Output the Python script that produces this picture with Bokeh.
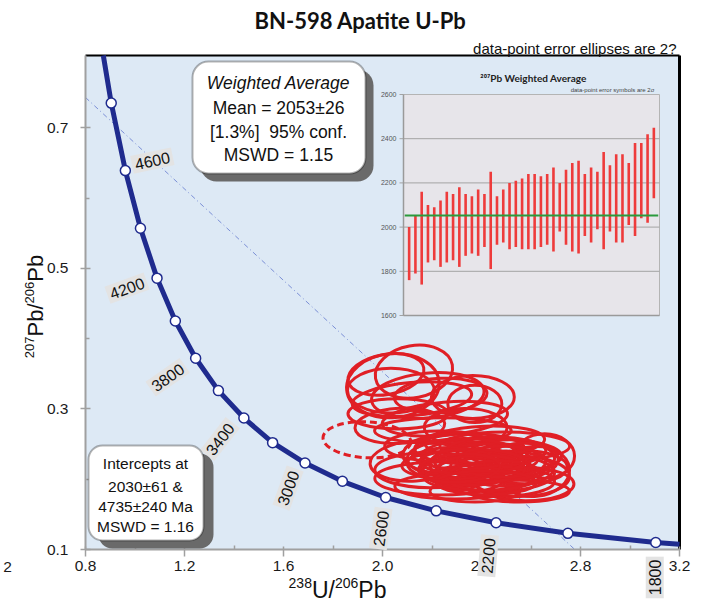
import math
from bokeh.plotting import figure
from bokeh.models import (Range1d, FixedTicker, PrintfTickFormatter, Label,
                          BoxAnnotation, ColumnDataSource)
from bokeh.core.properties import value
from bokeh.embed import file_html
from bokeh.resources import INLINE

# ---------------- data ----------------
title_text = "BN-598 Apatite U-Pb"
note_text = "data-point error ellipses are 2?"
x_label_parts = [("238", True), ("U/", False), ("206", True), ("Pb", False)]
y_label_parts = [("207", True), ("Pb/", False), ("206", True), ("Pb", False)]
stray_label = "2"

x_ticks = [0.8, 1.2, 1.6, 2.0, 2.4, 2.8, 3.2]
x_minor = [1.0, 1.4, 1.8, 2.2, 2.6, 3.0]
y_ticks = [0.1, 0.3, 0.5, 0.7]
y_minor = [0.2, 0.4, 0.6]

# concordia age markers (Ma) and their positions
conc_age = [4800, 4600, 4400, 4200, 4000, 3800, 3600, 3400, 3200,
            3000, 2800, 2600, 2400, 2200, 2000, 1800]
conc_x = [0.904, 0.961, 1.022, 1.089, 1.163, 1.245, 1.337, 1.440, 1.556,
          1.687, 1.838, 2.013, 2.217, 2.459, 2.749, 3.104]
conc_y = [0.735, 0.639, 0.557, 0.486, 0.425, 0.372, 0.326, 0.287, 0.252,
          0.223, 0.197, 0.174, 0.155, 0.138, 0.123, 0.110]
# where the curve enters (top) and leaves (right) the plot area
conc_in = (0.872, 0.8027)
conc_out = (3.200, 0.1076)
conc_label_age = [4600, 4200, 3800, 3400, 3000, 2600, 2200, 1800]

# discordia (regression line) end points
discordia_x = [0.800, 2.777]
discordia_y = [0.743, 0.100]

# error ellipses (accepted)
ell_x = [2.127, 2.042, 2.034, 2.183, 2.365, 2.119, 2.252, 2.062, 2.336, 2.244,
         2.014, 2.235, 2.373, 2.231, 2.578, 2.655, 2.332, 2.441, 2.296, 2.453,
         2.574, 2.352, 2.393, 2.473, 2.292, 2.514, 2.413, 2.191, 2.554, 2.373,
         2.264, 2.494, 2.615, 2.324, 2.437, 2.131, 2.231, 2.554, 2.070,
         2.350, 2.420, 2.500, 2.280, 2.460, 2.390, 2.560, 2.330,
         2.400, 2.450, 2.360, 2.480, 2.420, 2.310]
ell_y = [0.353, 0.333, 0.326, 0.319, 0.317, 0.314, 0.286, 0.293, 0.274, 0.269,
         0.349, 0.319, 0.307, 0.201, 0.193, 0.233, 0.219, 0.233, 0.229, 0.209,
         0.217, 0.243, 0.223, 0.197, 0.190, 0.229, 0.254, 0.213, 0.204, 0.183,
         0.237, 0.247, 0.211, 0.211, 0.219, 0.226, 0.247, 0.183, 0.276,
         0.212, 0.228, 0.215, 0.222, 0.240, 0.202, 0.226, 0.236,
         0.215, 0.205, 0.225, 0.225, 0.195, 0.216]
ell_w = [0.315, 0.375, 0.351, 0.456, 0.335, 0.484, 0.508, 0.403, 0.335, 0.552,
         0.310, 0.375, 0.218, 0.524, 0.391, 0.242, 0.508, 0.565, 0.391, 0.484,
         0.347, 0.444, 0.403, 0.444, 0.484, 0.363, 0.484, 0.444, 0.403, 0.363,
         0.363, 0.524, 0.282, 0.323, 0.323, 0.363, 0.444, 0.403, 0.363,
         0.400, 0.420, 0.380, 0.360, 0.400, 0.440, 0.300, 0.420,
         0.350, 0.380, 0.420, 0.360, 0.400, 0.330]
ell_h = [0.074, 0.091, 0.064, 0.064, 0.061, 0.047, 0.047, 0.043, 0.053, 0.037,
         0.057, 0.049, 0.053, 0.047, 0.047, 0.063, 0.043, 0.051, 0.053, 0.053,
         0.047, 0.043, 0.057, 0.043, 0.036, 0.054, 0.043, 0.050, 0.057, 0.031,
         0.057, 0.040, 0.071, 0.043, 0.043, 0.057, 0.043, 0.031, 0.050,
         0.040, 0.045, 0.050, 0.046, 0.040, 0.036, 0.050, 0.044,
         0.038, 0.042, 0.036, 0.044, 0.034, 0.040]
ell_angle = [10, 5, 0, 5, 0, 5, 5, 0, 0, 0,
             10, 3, 0, 0, 0, 0, 0, 0, 0, 0,
             0, 0, 3, 0, 0, 0, 2, 0, 0, 0,
             3, 0, 5, 0, 0, 4, 0, 0, 3,
             0, 2, 0, 0, 0, 0, 3, 0,
             0, 2, 0, 0, 0, 3]

# rejected ellipse (dashed)
rej_x = [1.937]
rej_y = [0.256]
rej_w = [0.355]
rej_h = [0.051]
rej_angle = [-3]

# inset: 207Pb weighted average (Ma), 2-sigma bars
wa_low = [1760, 1790, 1740, 1840, 1850, 1820, 1840, 1850, 1820, 1870,
          1880, 1870, 1910, 1810, 1920, 1930, 1900, 1910, 1900, 1900,
          1900, 1910, 1920, 1890, 1980, 1920, 1890, 1880, 1960, 1930,
          1990, 1900, 1980, 1930, 1930, 2010, 1960, 2040, 2020, 2130]
wa_high = [2000, 2050, 2160, 2100, 2090, 2120, 2160, 2150, 2180, 2150,
           2140, 2170, 2150, 2250, 2140, 2170, 2200, 2210, 2220, 2240,
           2240, 2230, 2240, 2270, 2200, 2260, 2290, 2300, 2240, 2270,
           2250, 2340, 2280, 2330, 2330, 2290, 2380, 2380, 2420, 2450]
wa_mean = 2053
wa_ticks = [1600, 1800, 2000, 2200, 2400, 2600]
wa_grid = [1800, 2000, 2200, 2400]
wa_title = "²⁰⁷Pb Weighted Average"
wa_note = "data-point error symbols are 2σ"

wa_box_lines = ["Weighted Average", "Mean = 2053±26", "[1.3%]\u00a0 95% conf.", "MSWD = 1.15"]
int_box_lines = ["Intercepts at", "2030±61 &", "4735±240 Ma", "MSWD = 1.16"]

# ---------------- layout (pixels) ----------------
W, H = 703, 602
FL, FR, FT, FB = 85, 679, 55, 549          # plot-area edges on the page
X0, X1 = 0.8, 3.2
Y0 = 0.1
SXU = (FR - FL) / (X1 - X0)
SYU = 703.0
Y1 = Y0 + (FB - FT) / SYU


def dx(px):
    return X0 + (px - FL) / SXU


def dy(py):
    return Y0 + (FB - py) / SYU


FONT = "Liberation Sans"
NAVY = "#1f2b8e"
RED = "#e01f25"
ADV = {"0": .556, "1": .556, "2": .556, "3": .556, "4": .556, "5": .556, "6": .556,
       "7": .556, "8": .556, "9": .556, "U": .722, "/": .278, "P": .667, "b": .556}


def tw(s, size):
    return sum(ADV.get(c, .556) for c in s) * size


p = figure(width=W, height=H,
           x_range=Range1d(dx(0), dx(W)), y_range=Range1d(dy(H), dy(0)),
           output_backend="svg", toolbar_location=None,
           min_border_left=0, min_border_right=0, min_border_top=0, min_border_bottom=0)
p.title.visible = False
p.background_fill_color = "white"
p.border_fill_color = "white"
p.outline_line_color = None
p.grid.visible = False

# plot area background
p.add_layout(BoxAnnotation(left=X0, right=X1, bottom=Y0, top=Y1, fill_color="#dde9f5",
                           fill_alpha=1, line_color=None, level="underlay"))

xa = p.xaxis[0]
ya = p.yaxis[0]
xa.fixed_location = Y0
xa.bounds = (X0, X1)
ya.fixed_location = X0
ya.bounds = (Y0, Y1)
for ax, ticks, minor in ((xa, x_ticks, x_minor), (ya, y_ticks, y_minor)):
    ax.ticker = FixedTicker(ticks=ticks, minor_ticks=minor)
    ax.formatter = PrintfTickFormatter(format="%.1f")
    ax.axis_line_color = "#a0a0a0"
    ax.axis_line_width = 2
    ax.major_tick_line_color = "#a0a0a0"
    ax.minor_tick_line_color = "#a0a0a0"
    ax.major_tick_line_width = 1.5
    ax.minor_tick_line_width = 1.5
    ax.major_label_text_font = FONT
    ax.major_label_text_font_size = "15.5px"
    ax.major_label_text_color = "#1a1a1a"
xa.major_tick_in = 3
xa.major_tick_out = 7
xa.minor_tick_in = 4
xa.minor_tick_out = 0
xa.major_label_standoff = 4
ya.major_tick_in = 5
ya.major_tick_out = 5
ya.minor_tick_in = 4
ya.minor_tick_out = 0
ya.major_label_standoff = 12

# frame top / right borders
p.segment(x0=[X0, X1], y0=[Y1, Y0], x1=[X1, X1], y1=[Y1, Y1],
          line_color="black", line_width=[2, 3])

# ---------------- inset (extra ranges) ----------------
IPL, IPR, IPT, IPB = 403, 659, 94, 315
IX0, IX1 = 0.1, 40.9
IY0, IY1 = 1600, 2600
ixs = (IPR - IPL) / (IX1 - IX0)
iys = (IPB - IPT) / (IY1 - IY0)
p.extra_x_ranges = {"ix": Range1d(IX0 - IPL / ixs, IX1 + (W - IPR) / ixs)}
p.extra_y_ranges = {"iy": Range1d(IY0 - (H - IPB) / iys, IY1 + IPT / iys)}
IR = dict(x_range_name="ix", y_range_name="iy")

p.quad(left=[IX0], right=[IX1], bottom=[IY0], top=[IY1], fill_color="#e7e5ea",
       line_color="#b4b4b4", line_width=1, **IR)
p.segment(x0=[IX0] * len(wa_grid), x1=[IX1] * len(wa_grid), y0=wa_grid, y1=wa_grid,
          line_color="#a3a3a3", line_width=1, **IR)
p.segment(x0=[IX0] * len(wa_ticks), x1=[IX0 - 4 / ixs] * len(wa_ticks), y0=wa_ticks, y1=wa_ticks,
          line_color="#a3a3a3", line_width=1, **IR)
p.segment(x0=[IX0, IX0], x1=[IX0, IX1], y0=[IY0, IY0], y1=[IY1, IY0],
          line_color="#9a9a9a", line_width=1.5, **IR)
p.text(x=[IX0] * len(wa_ticks), y=wa_ticks, text=[str(t) for t in wa_ticks],
       x_offset=-7, text_align="right", text_baseline="middle",
       text_font=value(FONT), text_font_size="7px", text_color="#555555", **IR)
idx = list(range(1, len(wa_low) + 1))
p.segment(x0=idx, x1=idx, y0=wa_low, y1=wa_high, line_color="#ee3b3b",
          line_width=2.6, line_cap="butt", **IR)
p.segment(x0=[IX0 + 0.2], x1=[IX1 - 0.2], y0=[wa_mean], y1=[wa_mean],
          line_color="#2b9a3c", line_width=2, **IR)
p.add_layout(Label(x=dx(533), y=dy(77), text=wa_title, text_align="center",
                   text_baseline="middle", text_font="Lato", text_font_style="bold",
                   text_font_size="10px", text_color="#222222"))
p.add_layout(Label(x=dx(612), y=dy(89), text=wa_note, text_align="center",
                   text_baseline="middle", text_font=FONT, text_font_size="6px",
                   text_color="#444444"))

# ---------------- main glyphs ----------------
p.line(discordia_x, discordia_y, line_color="#7b8fd6", line_width=1, line_dash="5 3 1 3")
p.line([conc_in[0]] + conc_x + [conc_out[0]], [conc_in[1]] + conc_y + [conc_out[1]],
       line_color=NAVY, line_width=5, line_join="round")

esrc = ColumnDataSource(dict(x=ell_x, y=ell_y, w=ell_w, h=ell_h, a=ell_angle))
p.ellipse(x="x", y="y", width="w", height="h", angle="a", angle_units="deg",
          source=esrc, fill_alpha=0, line_color=RED, line_width=3)
rsrc = ColumnDataSource(dict(x=rej_x, y=rej_y, w=rej_w, h=rej_h, a=rej_angle))
p.ellipse(x="x", y="y", width="w", height="h", angle="a", angle_units="deg",
          source=rsrc, fill_alpha=0, line_color=RED, line_width=3, line_dash="7 4")

p.scatter(conc_x, conc_y, size=10, marker="circle", fill_color="white",
          line_color=NAVY, line_width=1.5)

# concordia age labels (offset px from marker, angle deg)
lab_off = {4600: (27, -10, 12), 4200: (-30, 10, 20), 3800: (-28, 19, 35),
           3400: (-24, 21, 52), 3000: (-17, 25, 70), 2600: (-5, 31, 82),
           2200: (-8, 33, 85), 1800: (-1, 35, 90)}
for age in conc_label_age:
    i = conc_age.index(age)
    ox, oy, ang = lab_off[age]
    p.add_layout(Label(x=conc_x[i] + ox / SXU, y=conc_y[i] - oy / SYU, text=str(age),
                       angle=ang, angle_units="deg", text_align="center",
                       text_baseline="middle", text_font=FONT, text_font_size="16px",
                       text_color="#111111", background_fill_color="#e3e3e3",
                       background_fill_alpha=1, padding=3))

# ---------------- boxes ----------------
def rbox(l, t, r, b, sdx, sdy, rad):
    p.add_layout(BoxAnnotation(left=dx(l + sdx), right=dx(r + sdx), top=dy(t + sdy),
                               bottom=dy(b + sdy), fill_color="#6a6a6a", fill_alpha=1,
                               line_color=None, border_radius=rad))
    p.add_layout(BoxAnnotation(left=dx(l), right=dx(r), top=dy(t), bottom=dy(b),
                               fill_color="white", fill_alpha=1, line_color="black",
                               line_width=2, border_radius=rad))

rbox(192, 61, 365, 173, 8, 8, 16)
for k, (txt, py) in enumerate(zip(wa_box_lines, [82, 107, 131, 154])):
    p.add_layout(Label(x=dx(278), y=dy(py), text=txt, text_align="center",
                       text_baseline="middle", text_font=FONT, text_font_size="17.5px",
                       text_font_style="italic" if k == 0 else "normal",
                       text_color="#111111"))

rbox(88, 445, 203, 540, 10, 8, 14)
for txt, py in zip(int_box_lines, [463, 486, 506, 526]):
    p.add_layout(Label(x=dx(145), y=dy(py), text=txt, text_align="center",
                       text_baseline="middle", text_font=FONT, text_font_size="15.5px",
                       text_color="#111111"))

# ---------------- titles & axis labels ----------------
p.add_layout(Label(x=dx(360), y=dy(20), text=title_text, text_align="center",
                   text_baseline="middle", text_font="Lato", text_font_style="bold",
                   text_font_size="22px", text_color="#111111"))
p.add_layout(Label(x=dx(676), y=dy(48), text=note_text, text_align="right",
                   text_baseline="middle", text_font=FONT, text_font_size="15px",
                   text_color="#111111"))

# x axis label: 238U/206Pb with superscripts
XL_MAIN, XL_SUP = 23.0, 14.0
XL_CENTER, XL_BASE = 337, 589
total = sum(tw(t, XL_SUP if s else XL_MAIN) for t, s in x_label_parts)
cur = XL_CENTER - total / 2
for t, s in x_label_parts:
    size = XL_SUP if s else XL_MAIN
    base = XL_BASE - (0.716 * (XL_MAIN - XL_SUP)) if s else XL_BASE
    p.add_layout(Label(x=dx(cur), y=dy(base), text=t, text_align="left",
                       text_baseline="alphabetic", text_font=FONT,
                       text_font_size=f"{size}px", text_color="#111111"))
    cur += tw(t, size)

# y axis label: 207Pb/206Pb rotated
YL_MAIN, YL_SUP = 22.0, 13.0
YL_CENTER, YL_BASE = 306, 35
total = sum(tw(t, YL_SUP if s else YL_MAIN) for t, s in y_label_parts)
cur = YL_CENTER + total / 2
for t, s in y_label_parts:
    size = YL_SUP if s else YL_MAIN
    base = YL_BASE - (0.716 * (YL_MAIN - YL_SUP)) if s else YL_BASE
    p.add_layout(Label(x=dx(base), y=dy(cur), text=t, text_align="left",
                       text_baseline="alphabetic", angle=90, angle_units="deg",
                       text_font=FONT, text_font_size=f"{size}px", text_color="#111111"))
    cur -= tw(t, size)

p.add_layout(Label(x=dx(7), y=dy(566), text=stray_label, text_align="center",
                   text_baseline="middle", text_font=FONT, text_font_size="15.5px",
                   text_color="#1a1a1a"))

open("out.html", "w").write(file_html(p, INLINE))
